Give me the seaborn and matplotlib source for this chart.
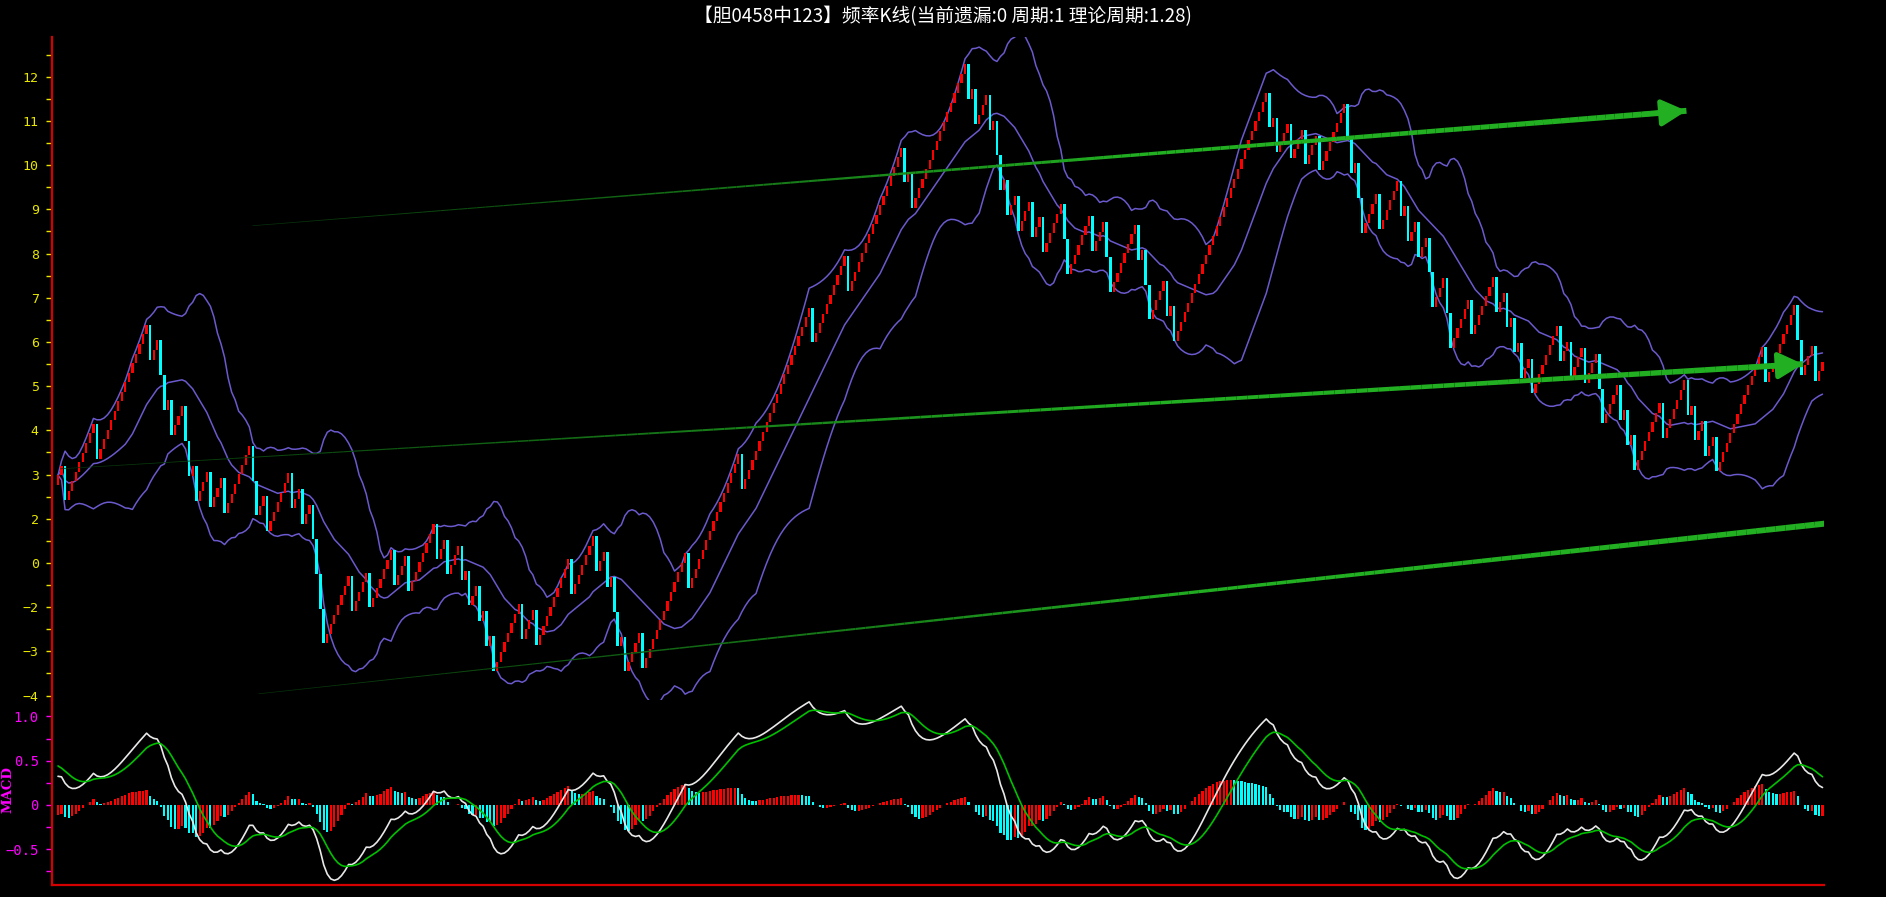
import numpy as np
import pandas as pd
import seaborn as sns
import matplotlib.pyplot as plt
from matplotlib.collections import LineCollection
from matplotlib.colors import to_rgb

# ---------------- data ---------------- #
# frequency K-line: each period is a hit (red, small step up) or a miss
# (cyan, long drop). hit probability 0.784 -> theoretical period 1.28
hit_prob = 0.784
start_value = 2.77

# number of red candles before each cyan candle, left to right
red_runs_1 = [2, 8, 14, 2, 0, 1, 3, 0, 1, 3, 3, 7, 0, 2, 6, 2, 2, 0, 0, 0,
              7, 4, 6, 3, 7, 2, 3, 1, 2, 1]
red_runs_2 = [1, 7, 3, 9, 6, 2, 1, 0, 1, 4, 12, 14, 19, 9, 15, 1]
red_runs_3 = [15, 1, 3, 1, 0, 1, 2, 3, 2, 5, 0, 6, 3, 0, 7, 1, 0, 4, 1, 26,
              1, 3, 3, 3, 7, 0, 1, 0]
red_runs_4 = [4, 5, 1, 2, 2, 0, 3, 0, 5, 6, 2, 1,
              1, 2, 7, 2, 3, 3, 0, 4, 1, 1,
              7, 6, 1, 2, 2, 13, 8, 0, 3]
trailing_reds = 2

# indicator state at the left edge of the window
dif_start = 0.35
dea_start = 0.47

# y axis of the price panel (labels exactly as printed on the chart)
main_ticks = [12, 11, 10, 9, 8, 7, 6, 5, 4, 3, 2, 1, 0, -1, -2]
main_labels = ['12', '11', '10', '9', '8', '7', '6', '5', '4', '3', '2',
               '0', '−2', '−3', '−4']
macd_ticks = [1.0, 0.5, 0.0, -0.5]
macd_labels = ['1.0', '0.5', '0', '−0.5']

# hand-drawn trend arrows: (start index, start value, end index, end value)
trend_top = (54.9, 8.63, 459.6, 11.23)
trend_mid = (0.6, 3.13, 492.5, 5.50)
trend_low = (56.6, -1.96, 498.6, 1.89)

title = '【胆0458中123】频率K线(当前遗漏:0 周期:1 理论周期:1.28)'

# ---------------- build the series ---------------- #
up_step = 1 - hit_prob
down_step = hit_prob

hits = []
for run in red_runs_1 + red_runs_2 + red_runs_3 + red_runs_4:
    hits += [1] * run + [0]
hits += [1] * trailing_reds

df = pd.DataFrame({'hit': hits})
df['chg'] = np.where(df['hit'] == 1, up_step, -down_step)
df['c'] = start_value + df['chg'].cumsum()
df['o'] = df['c'] - df['chg']
df['idx'] = np.arange(len(df))
n = len(df)

# bollinger (20, 2)
df['mid'] = df['c'].rolling(20, min_periods=1).mean()
sd = df['c'].rolling(20, min_periods=1).std(ddof=0)
df['up_band'] = df['mid'] + 2 * sd
df['low_band'] = df['mid'] - 2 * sd


def ema_from(series, span, first):
    """ ema with a given state before the first value """
    s = pd.concat([pd.Series([first]), series], ignore_index=True)
    return s.ewm(span=span, adjust=False).mean().iloc[1:].reset_index(drop=True)


# macd (12, 26, 9)
c0 = df['c'].iloc[0]
ema12 = ema_from(df['c'], 12, c0)
ema26 = ema_from(df['c'], 26, c0 - dif_start)
df['dif'] = ema12 - ema26
df['dea'] = ema_from(df['dif'], 9, dea_start)
df['bar'] = df['dif'] - df['dea']
rising = (df['bar'].diff().fillna(0) >= 0).values

# ---------------- plot ---------------- #
sns.set_theme(style='dark', rc={'figure.facecolor': 'black',
                                'axes.facecolor': 'black'})
plt.rcParams['font.family'] = ['Noto Sans CJK SC', 'DejaVu Sans']

W, H = 1886, 897
fig = plt.figure(figsize=(W / 100, H / 100), dpi=100)
ax = fig.add_axes([52 / W, 1 - 700 / H, 1772 / W, 663 / H])
ax2 = fig.add_axes([52 / W, 1 - 885 / H, 1772 / W, 185 / H], sharex=ax)

RED = '#ff0000'
CYAN = '#00ffff'
BAND = '#6a5acd'
YELLOW = '#e6e600'
MAGENTA = '#ff00ff'
AXRED = '#d40000'

# candles
up = df[df['hit'] == 1]
dn = df[df['hit'] == 0]
ax.bar(up['idx'], up['c'] - up['o'], bottom=up['o'], width=0.62,
       color=RED, linewidth=0, zorder=3)
ax.bar(dn['idx'], dn['o'] - dn['c'], bottom=dn['c'], width=0.75,
       color=CYAN, linewidth=0, zorder=3)

# bollinger bands
for col in ['up_band', 'mid', 'low_band']:
    sns.lineplot(x=df['idx'], y=df[col], ax=ax, color=BAND, lw=1.1,
                 legend=False, zorder=2)


def draw_trend(ax, line, segs=160):
    """ tapered green arrow: thin and dark at start, thick at the head """
    x0, y0, x1, y1 = line
    xs = np.linspace(x0, x1, segs + 1)
    ys = np.linspace(y0, y1, segs + 1)
    pts = np.column_stack([xs, ys])
    seg = np.stack([pts[:-1], pts[1:]], axis=1)
    t = np.linspace(0, 1, segs)
    dark = np.array(to_rgb('#06300a'))
    bright = np.array(to_rgb('#22b022'))
    mix = np.clip(t * 1.6, 0, 1)[:, None]
    cols = dark * (1 - mix) + bright * mix
    lc = LineCollection(seg, linewidths=0.5 + 3.8 * t ** 1.4, colors=cols,
                        capstyle='butt', zorder=4)
    ax.add_collection(lc)
    back = 0.03
    ax.annotate('', xy=(x1, y1),
                xytext=(x1 - (x1 - x0) * back, y1 - (y1 - y0) * back),
                arrowprops=dict(arrowstyle='-|>,head_length=0.75,head_width=0.4',
                                color='#22b022', lw=3.5, mutation_scale=20,
                                shrinkA=0, shrinkB=0),
                zorder=5)


for line in [trend_top, trend_mid, trend_low]:
    draw_trend(ax, line)

# macd panel
ax2.bar(df['idx'][rising], df['bar'][rising], width=0.62, color=RED,
        linewidth=0)
ax2.bar(df['idx'][~rising], df['bar'][~rising], width=0.62, color=CYAN,
        linewidth=0)
sns.lineplot(x=df['idx'], y=df['dif'], ax=ax2, color='#e8e8e8', lw=1.2,
             legend=False)
sns.lineplot(x=df['idx'], y=df['dea'], ax=ax2, color='#00c000', lw=1.2,
             legend=False)

# limits: candle spacing matches the reference pixels
sp = (1822.5 - 58) / (n - 1)
ax.set_xlim((52 - 58) / sp, (1824 - 58) / sp)
ax.set_ylim(-2.1, 12.9)
ax2.set_ylim(-0.903, 1.185)

# axes styling
for a in (ax, ax2):
    for s in a.spines.values():
        s.set_visible(False)
    a.spines['left'].set_visible(True)
    a.spines['left'].set_color(AXRED)
    a.spines['left'].set_linewidth(1.6)
    a.set_xlabel('')
    a.set_ylabel('')
    a.grid(False)
    a.tick_params(axis='x', bottom=False, labelbottom=False)
ax2.spines['bottom'].set_visible(True)
ax2.spines['bottom'].set_color(AXRED)
ax2.spines['bottom'].set_linewidth(1.6)

ax.set_yticks(main_ticks)
ax.set_yticklabels(main_labels)
ax.set_yticks(np.arange(-1.5, 12.6, 1.0), minor=True)
ax.tick_params(axis='y', which='both', colors=YELLOW, length=4.5, width=1,
               direction='out', left=True, pad=5)
ax.tick_params(axis='y', which='major', labelsize=9.5)

ax2.set_yticks(macd_ticks)
ax2.set_yticklabels(macd_labels)
ax2.set_yticks([0.75, 0.25, -0.25, -0.75], minor=True)
ax2.tick_params(axis='y', which='both', colors=MAGENTA, length=4.5, width=1,
                direction='out', left=True, pad=5)
ax2.tick_params(axis='y', which='major', labelsize=10)

for lab in ax.get_yticklabels() + ax2.get_yticklabels():
    lab.set_family(['DejaVu Sans Mono'])

fig.text(7.5 / W, 1 - 790 / H, 'MACD', rotation=90, color=MAGENTA,
         fontsize=9.5, fontweight='bold', family=['DejaVu Serif'],
         ha='center', va='center')
fig.text(943 / W, 1 - 17 / H, title, color='white', fontsize=13.5,
         ha='center', va='center',
         family=['Noto Sans CJK SC', 'DejaVu Sans'])

fig.savefig('out.png', dpi=100, facecolor='black')
